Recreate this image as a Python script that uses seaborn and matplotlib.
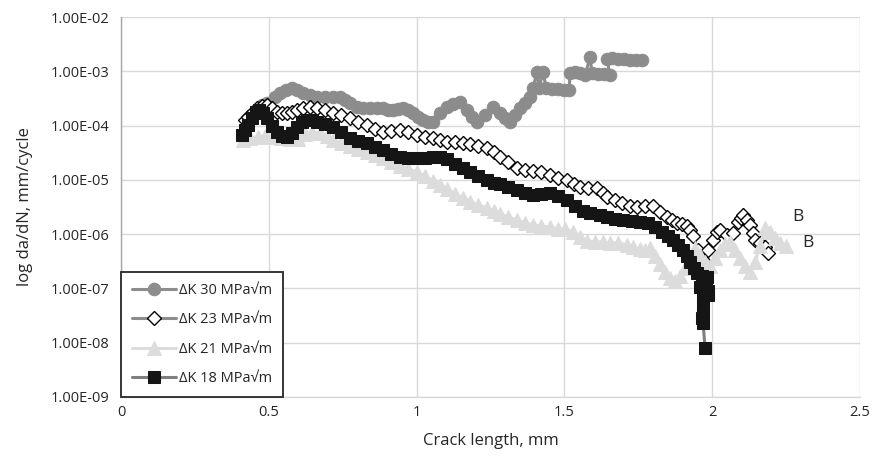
import matplotlib
matplotlib.use("Agg")
import matplotlib.pyplot as plt
import matplotlib.ticker as mticker
import seaborn as sns

# ---- series data: crack length (mm) and growth rate da/dN (mm/cycle) ----
crack_30 = [0.477, 0.494, 0.521, 0.538, 0.558, 0.578, 0.595, 0.616, 0.639, 0.663,
            0.690, 0.717, 0.741, 0.758, 0.775, 0.798, 0.819, 0.842, 0.866, 0.886,
            0.903, 0.920, 0.937, 0.954, 0.971, 0.988, 1.005, 1.022, 1.039, 1.055,
            1.079, 1.103, 1.123, 1.147, 1.170, 1.187, 1.204, 1.231, 1.258, 1.282,
            1.299, 1.316, 1.333, 1.350, 1.367, 1.384, 1.394, 1.407, 1.414, 1.428,
            1.438, 1.458, 1.478, 1.499, 1.516, 1.519, 1.536, 1.553, 1.570, 1.587,
            1.593, 1.614, 1.634, 1.654, 1.644, 1.661, 1.681, 1.702, 1.722, 1.742,
            1.763]
rate_30 = [2.4e-4, 2.6e-4, 3.4e-4, 4.0e-4, 4.5e-4, 4.9e-4, 4.5e-4, 4.0e-4, 3.7e-4, 3.4e-4,
           3.3e-4, 3.4e-4, 3.4e-4, 3.0e-4, 2.6e-4, 2.2e-4, 2.1e-4, 2.1e-4, 2.1e-4, 2.1e-4,
           1.94e-4, 1.94e-4, 2.0e-4, 2.1e-4, 1.94e-4, 1.7e-4, 1.44e-4, 1.27e-4, 1.16e-4, 1.16e-4,
           1.7e-4, 2.2e-4, 2.5e-4, 2.7e-4, 1.94e-4, 1.44e-4, 1.16e-4, 1.57e-4, 2.2e-4, 1.7e-4,
           1.38e-4, 1.16e-4, 1.57e-4, 2.1e-4, 2.6e-4, 3.4e-4, 4.9e-4, 9.7e-4, 4.9e-4, 9.7e-4,
           4.9e-4, 4.7e-4, 4.7e-4, 4.5e-4, 4.5e-4, 9.3e-4, 9.7e-4, 9.3e-4, 8.6e-4, 1.83e-3,
           9.3e-4, 8.9e-4, 8.9e-4, 8.6e-4, 1.68e-3, 1.76e-3, 1.68e-3, 1.68e-3, 1.61e-3, 1.61e-3,
           1.61e-3]

crack_23 = [0.419, 0.430, 0.443, 0.460, 0.477, 0.494, 0.511, 0.528, 0.545, 0.562,
            0.578, 0.595, 0.616, 0.639, 0.663, 0.690, 0.717, 0.744, 0.775, 0.802,
            0.832, 0.859, 0.886, 0.913, 0.944, 0.971, 1.001, 1.028, 1.055, 1.079,
            1.103, 1.130, 1.157, 1.181, 1.208, 1.238, 1.262, 1.282, 1.309, 1.340,
            1.367, 1.394, 1.421, 1.451, 1.478, 1.509, 1.532, 1.553, 1.580, 1.610,
            1.631, 1.644, 1.671, 1.695, 1.722, 1.746, 1.773, 1.800, 1.823, 1.847,
            1.864, 1.881, 1.898, 1.915, 1.925, 1.935, 1.952, 1.969, 1.986, 2.003,
            2.016, 2.026, 2.050, 2.070, 2.087, 2.097, 2.104, 2.118, 2.128, 2.138,
            2.145, 2.162, 2.179, 2.189]
rate_23 = [1.27e-4, 1.44e-4, 1.7e-4, 2.1e-4, 2.3e-4, 2.4e-4, 2.1e-4, 1.78e-4, 1.7e-4, 1.7e-4,
           1.78e-4, 1.94e-4, 2.1e-4, 2.2e-4, 2.1e-4, 1.94e-4, 1.7e-4, 1.57e-4, 1.38e-4, 1.16e-4,
           1.03e-4, 8.65e-5, 7.6e-5, 7.9e-5, 8.3e-5, 7.6e-5, 6.7e-5, 6.2e-5, 5.9e-5, 5.4e-5,
           5.0e-5, 5.0e-5, 4.8e-5, 4.6e-5, 4.2e-5, 3.85e-5, 3.26e-5, 2.64e-5, 2.13e-5, 1.66e-5,
           1.52e-5, 1.46e-5, 1.40e-5, 1.23e-5, 1.08e-5, 9.95e-6, 8.4e-6, 7.4e-6, 7.1e-6, 7.1e-6,
           5.7e-6, 4.84e-6, 4.26e-6, 3.75e-6, 3.3e-6, 3.16e-6, 3.3e-6, 3.3e-6, 2.56e-6, 2.07e-6,
           1.82e-6, 1.61e-6, 1.54e-6, 1.41e-6, 1.19e-6, 9.25e-7, 5.1e-7, 3.3e-7, 5.1e-7, 7.8e-7,
           1.10e-6, 1.19e-6, 9.7e-7, 1.05e-6, 1.68e-6, 1.99e-6, 2.25e-6, 1.82e-6, 1.48e-6, 1.05e-6,
           7.8e-7, 6.9e-7, 5.8e-7, 4.5e-7]

crack_21 = [0.413, 0.436, 0.463, 0.487, 0.514, 0.541, 0.572, 0.599, 0.622, 0.646,
            0.673, 0.697, 0.717, 0.744, 0.775, 0.802, 0.832, 0.859, 0.886, 0.913,
            0.944, 0.971, 1.001, 1.028, 1.055, 1.079, 1.103, 1.130, 1.157, 1.181,
            1.208, 1.238, 1.262, 1.282, 1.309, 1.340, 1.367, 1.394, 1.421, 1.451,
            1.478, 1.502, 1.529, 1.553, 1.576, 1.604, 1.631, 1.654, 1.681, 1.712,
            1.732, 1.756, 1.773, 1.790, 1.806, 1.823, 1.840, 1.857, 1.874, 1.891,
            1.908, 1.925, 1.942, 1.959, 1.976, 1.993, 2.009, 2.026, 2.043, 2.060,
            2.077, 2.094, 2.111, 2.128, 2.145, 2.162, 2.179, 2.196, 2.212, 2.229,
            2.250]
rate_21 = [5.4e-5, 5.9e-5, 6.2e-5, 6.4e-5, 6.2e-5, 5.9e-5, 5.7e-5, 5.7e-5, 7.0e-5, 7.6e-5,
           7.3e-5, 6.4e-5, 5.4e-5, 4.8e-5, 4.2e-5, 3.7e-5, 3.26e-5, 2.87e-5, 2.53e-5, 2.13e-5,
           1.8e-5, 1.59e-5, 1.40e-5, 1.18e-5, 9.5e-6, 8.05e-6, 6.8e-6, 5.5e-6, 4.64e-6, 3.9e-6,
           3.44e-6, 3.03e-6, 2.67e-6, 2.35e-6, 2.07e-6, 1.82e-6, 1.61e-6, 1.48e-6, 1.41e-6, 1.36e-6,
           1.24e-6, 1.24e-6, 1.10e-6, 8.9e-7, 7.5e-7, 7.2e-7, 7.2e-7, 6.9e-7, 6.9e-7, 6.3e-7,
           5.8e-7, 5.3e-7, 5.1e-7, 5.6e-7, 3.96e-7, 2.82e-7, 2.01e-7, 1.56e-7, 1.37e-7, 1.70e-7,
           2.38e-7, 3.6e-7, 5.6e-7, 4.13e-7, 3.07e-7, 2.59e-7, 3.6e-7, 5.1e-7, 6.6e-7, 7.2e-7,
           5.1e-7, 3.6e-7, 2.6e-7, 2.0e-7, 3.07e-7, 6.05e-7, 1.30e-6, 1.10e-6, 8.5e-7, 6.9e-7,
           6.05e-7]

crack_18 = [0.409, 0.419, 0.430, 0.443, 0.457, 0.467, 0.480, 0.494, 0.511, 0.528,
            0.545, 0.562, 0.578, 0.595, 0.612, 0.629, 0.646, 0.663, 0.690, 0.717,
            0.744, 0.775, 0.802, 0.832, 0.859, 0.886, 0.913, 0.944, 0.971, 1.001,
            1.028, 1.055, 1.079, 1.103, 1.130, 1.157, 1.181, 1.208, 1.238, 1.262,
            1.282, 1.309, 1.340, 1.367, 1.394, 1.421, 1.451, 1.478, 1.509, 1.536,
            1.563, 1.587, 1.620, 1.644, 1.671, 1.698, 1.729, 1.756, 1.783, 1.806,
            1.830, 1.850, 1.867, 1.884, 1.901, 1.915, 1.925, 1.938, 1.948, 1.965,
            1.982, 1.965, 1.979, 1.959, 1.986, 1.969, 1.986, 1.969, 1.969, 1.965,
            1.969, 1.976]
rate_18 = [6.7e-5, 8.3e-5, 1.03e-4, 1.38e-4, 1.78e-4, 1.94e-4, 1.7e-4, 1.38e-4, 9.8e-5, 7.6e-5,
           6.4e-5, 6.2e-5, 7.3e-5, 9.4e-5, 1.16e-4, 1.27e-4, 1.27e-4, 1.16e-4, 1.07e-4, 9.4e-5,
           7.6e-5, 5.9e-5, 5.2e-5, 4.8e-5, 4.0e-5, 3.55e-5, 3.0e-5, 2.64e-5, 2.53e-5, 2.53e-5,
           2.53e-5, 2.64e-5, 2.64e-5, 2.42e-5, 1.96e-5, 1.66e-5, 1.40e-5, 1.18e-5, 9.95e-6, 8.75e-6,
           8.4e-6, 7.4e-6, 6.5e-6, 5.7e-6, 5.3e-6, 5.5e-6, 5.7e-6, 5.04e-6, 4.26e-6, 3.3e-6,
           2.67e-6, 2.45e-6, 2.25e-6, 2.07e-6, 1.90e-6, 1.82e-6, 1.75e-6, 1.68e-6, 1.61e-6, 1.36e-6,
           1.10e-6, 9.25e-7, 7.8e-7, 6.3e-7, 5.1e-7, 3.96e-7, 3.07e-7, 2.38e-7, 1.93e-7, 1.70e-7,
           1.63e-7, 1.26e-7, 1.06e-7, 1.06e-7, 8.97e-8, 7.0e-8, 7.6e-8, 4.95e-8, 3.5e-8, 2.86e-8,
           2.3e-8, 8.0e-9]

series_labels = ["ΔK 30 MPa√m", "ΔK 23 MPa√m", "ΔK 21 MPa√m", "ΔK 18 MPa√m"]

x_ticks = [0, 0.5, 1, 1.5, 2, 2.5]
x_tick_labels = ["0", "0.5", "1", "1.5", "2", "2.5"]
y_ticks = [1e-9, 1e-8, 1e-7, 1e-6, 1e-5, 1e-4, 1e-3, 1e-2]
y_tick_labels = ["1.00E-09", "1.00E-08", "1.00E-07", "1.00E-06",
                 "1.00E-05", "1.00E-04", "1.00E-03", "1.00E-02"]

end_labels = ["B", "B"]
end_label_x = [2.27, 2.305]
end_label_y = [2.1e-6, 7.0e-7]

# ---- styling ----
sns.set_theme(style="white")
plt.rcParams["font.family"] = ["Open Sans", "DejaVu Sans"]

fig = plt.figure(figsize=(8.77, 4.57), dpi=100)
ax = fig.add_axes([0.138, 0.1313, 0.8426, 0.8315])
ax.set_yscale("log")

grid_c = "#d9d9d9"
ax.set_axisbelow(True)
ax.grid(True, which="major", color=grid_c, linewidth=1.0)

common = dict(ax=ax, estimator=None, sort=False, errorbar=None, linewidth=2.2)

sns.lineplot(x=crack_30, y=rate_30, color="#8c8c8c", marker="o", markersize=9.0,
             markerfacecolor="#8c8c8c", markeredgecolor="#8c8c8c",
             label=series_labels[0], zorder=3, **common)
sns.lineplot(x=crack_23, y=rate_23, color="#8c8c8c", marker="D", markersize=7.0,
             markerfacecolor="white", markeredgecolor="black", markeredgewidth=1.0,
             label=series_labels[1], zorder=4, **common)
sns.lineplot(x=crack_21, y=rate_21, color="#dcdcdc", marker="^", markersize=10.5,
             markerfacecolor="#dcdcdc", markeredgecolor="#dcdcdc",
             label=series_labels[2], zorder=5, **common)
sns.lineplot(x=crack_18, y=rate_18, color="#7f7f7f", marker="s", markersize=8.0,
             markerfacecolor="#151515", markeredgecolor="#151515",
             label=series_labels[3], zorder=6, **common)

for txt, bx, by in zip(end_labels, end_label_x, end_label_y):
    ax.text(bx, by, txt, fontsize=12.5, color="#262626", ha="left", va="center")

ax.set_xlim(0, 2.5)
ax.set_ylim(1e-9, 1e-2)
ax.xaxis.set_major_locator(mticker.FixedLocator(x_ticks))
ax.xaxis.set_major_formatter(mticker.FixedFormatter(x_tick_labels))
ax.yaxis.set_major_locator(mticker.FixedLocator(y_ticks))
ax.yaxis.set_major_formatter(mticker.FixedFormatter(y_tick_labels))
ax.yaxis.set_minor_locator(mticker.LogLocator(base=10, subs=range(2, 10), numticks=20))
ax.yaxis.set_minor_formatter(mticker.NullFormatter())

ax.tick_params(axis="x", length=0, pad=6, labelsize=10.5, labelcolor="#262626")
ax.tick_params(axis="y", which="major", direction="in", length=4, width=0.8,
               color="#a6a6a6", pad=8, labelsize=10.5, labelcolor="#262626")
ax.tick_params(axis="y", which="minor", direction="in", length=2.5, width=0.6,
               color="#a6a6a6")

for side in ("top", "right"):
    ax.spines[side].set_visible(False)
ax.spines["left"].set_color("#a6a6a6")
ax.spines["left"].set_linewidth(1.0)
ax.spines["bottom"].set_color(grid_c)
ax.spines["bottom"].set_linewidth(1.0)

ax.set_xlabel("Crack length, mm", fontsize=12, color="#262626", labelpad=9)
ax.set_ylabel("log da/dN, mm/cycle", fontsize=12, color="#262626", labelpad=13)

leg = ax.legend(loc="lower left", bbox_to_anchor=(0, 0), borderaxespad=0,
                frameon=True, fancybox=False, framealpha=1, edgecolor="#262626",
                fontsize=10.5, handlelength=3.0, handletextpad=0.2,
                labelspacing=0.98, borderpad=0.75)
leg.get_frame().set_linewidth(1.3)
leg.set_zorder(10)
for t in leg.get_texts():
    t.set_color("#262626")

fig.savefig("out.png", dpi=100)
